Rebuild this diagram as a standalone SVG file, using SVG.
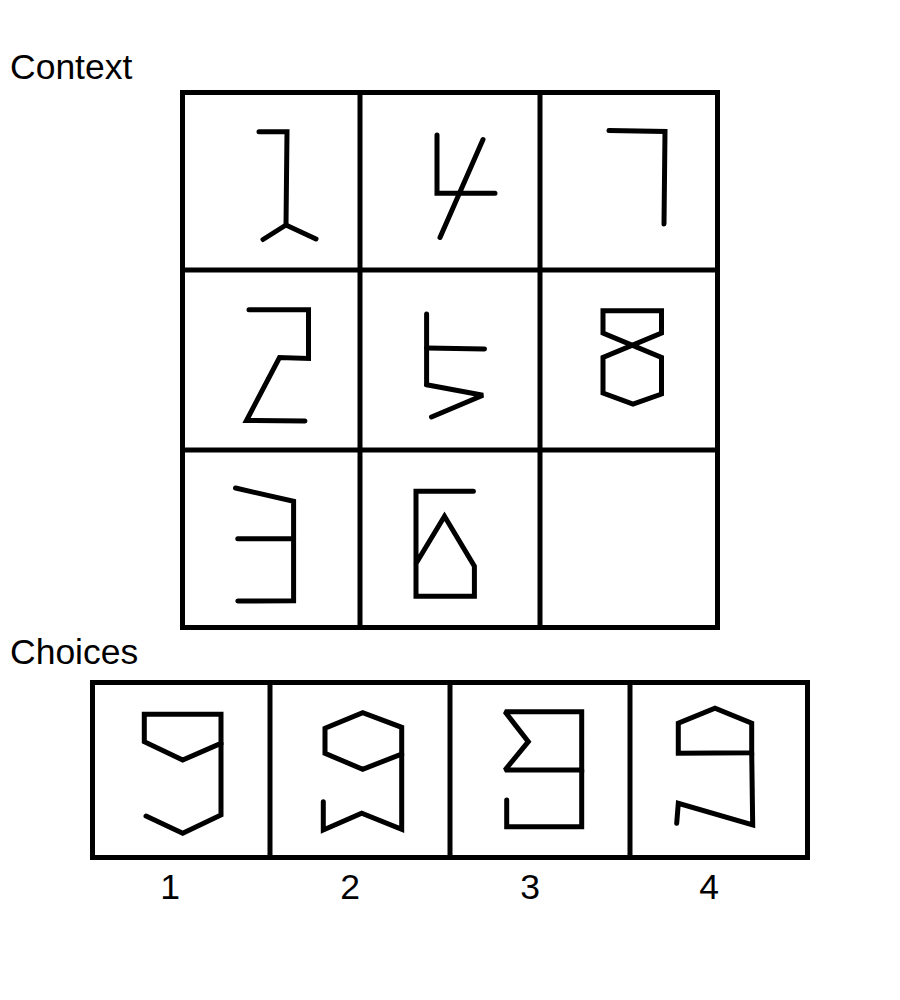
<svg xmlns="http://www.w3.org/2000/svg" width="900" height="1000" viewBox="0 0 900 1000">
<style>
.frame{fill:none;stroke:#000;stroke-width:5}
.g{fill:none;stroke:#000;stroke-width:5;stroke-linecap:round;stroke-linejoin:miter;stroke-miterlimit:2}
.t{font-family:"Liberation Sans",Arial,sans-serif;font-size:35.5px;fill:#000}
</style>
<rect width="900" height="1000" fill="#fff"/>
<text class="t" x="10" y="79">Context</text>
<text class="t" x="10" y="664">Choices</text>
<g id="context-grid">
<rect class="frame" x="182.5" y="92.5" width="535" height="535"/>
<line class="frame" x1="360" y1="92" x2="360" y2="628"/>
<line class="frame" x1="540" y1="92" x2="540" y2="628"/>
<line class="frame" x1="182" y1="270" x2="718" y2="270"/>
<line class="frame" x1="182" y1="450" x2="718" y2="450"/>
</g>
<g id="cell-1-1">
<polyline class="g" points="259,131.7 287,131.7 286,225"/>
<polyline class="g" points="263,239.5 286,225 316,239"/>
</g>
<g id="cell-1-2">
<polyline class="g" points="437,135 437,193.3 495,193.3"/>
<line class="g" x1="483" y1="139.5" x2="440" y2="237.5"/>
</g>
<g id="cell-1-3">
<polyline class="g" points="609,130.5 665,131.5 664,224"/>
</g>
<g id="cell-2-1">
<polyline class="g" points="249,309.7 308.5,309.7 308.5,358.5 279.5,357.5 246.5,420.5 305,421"/>
</g>
<g id="cell-2-2">
<line class="g" x1="426.6" y1="314" x2="426.6" y2="384.7"/>
<line class="g" x1="426.6" y1="348" x2="484.5" y2="349"/>
<polyline class="g" points="426.6,384.7 483,395.3 431.5,417"/>
</g>
<g id="cell-2-3">
<polygon class="g" points="603,310.7 661.5,310.7 661.5,333 603,357.5 603,393 633,404 661.5,394 661.5,357.5 603,333"/>
</g>
<g id="cell-3-1">
<polyline class="g" points="235.5,488 293.6,501.3 293.6,600.7 237.8,601"/>
<line class="g" x1="237.8" y1="538.7" x2="293.6" y2="538.7"/>
</g>
<g id="cell-3-2">
<polyline class="g" points="473.4,491.3 416,491.3 416,596.3 474.4,596.3 474.4,566.3 444.5,516.3 416,563.5"/>
</g>
<g id="cell-3-3"></g>
<g id="choices-grid">
<rect class="frame" x="92.5" y="682.5" width="715" height="175"/>
<line class="frame" x1="270" y1="682" x2="270" y2="858"/>
<line class="frame" x1="450" y1="682" x2="450" y2="858"/>
<line class="frame" x1="630" y1="682" x2="630" y2="858"/>
</g>
<g id="choice-1">
<polygon class="g" points="144.3,714.3 221,714.3 221,743.3 182.7,760 144.3,741.7"/>
<polyline class="g" points="221,743.3 221,815 182.7,833.3 146,816"/>
</g>
<g id="choice-2">
<polygon class="g" points="325,728.3 362.7,712.7 401.7,727.3 401.7,754 362.7,769.3 325,753.3"/>
<polyline class="g" points="401.7,754 401.7,829.3 361.7,813.3 323.3,830 323.3,801.7"/>
</g>
<g id="choice-3">
<polygon class="g" points="505,711.7 581.7,711.7 581.7,770 505,770 528.3,741.7"/>
<polyline class="g" points="581.7,770 581.7,826.7 506.7,826.7 506.7,800"/>
</g>
<g id="choice-4">
<polygon class="g" points="678.3,753.3 678.3,723.3 715,708.3 751.7,723.3 751.7,752.7"/>
<polyline class="g" points="751.7,752.7 752.7,825 678.3,803.3 676.7,823.3"/>
</g>
<g id="labels">
<text class="t" x="170" y="899" text-anchor="middle">1</text>
<text class="t" x="350" y="899" text-anchor="middle">2</text>
<text class="t" x="530" y="899" text-anchor="middle">3</text>
<text class="t" x="709" y="899" text-anchor="middle">4</text>
</g>
</svg>
